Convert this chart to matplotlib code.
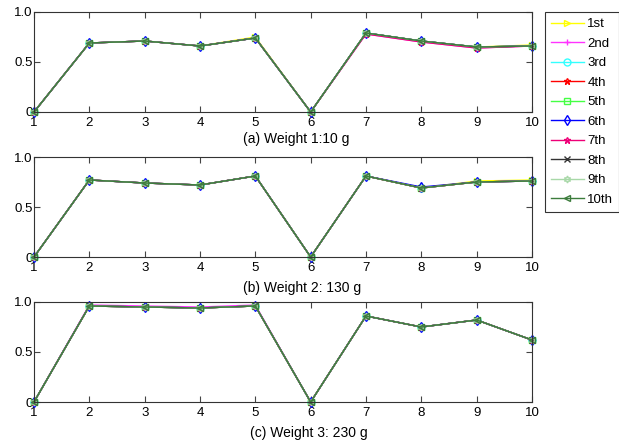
import matplotlib.pyplot as plt

plt.rcParams['font.family'] = ['Liberation Sans', 'DejaVu Sans']
plt.rcParams['font.size'] = 9.5

x = [1, 2, 3, 4, 5, 6, 7, 8, 9, 10]
labels = ['1st', '2nd', '3rd', '4th', '5th', '6th', '7th', '8th', '9th', '10th']
titles = ['(a) Weight 1:10 g', '(b) Weight 2: 130 g', '(c) Weight 3: 230 g']

# ten runs per weight
w1 = [
    [0, 0.69, 0.71, 0.66, 0.75, 0, 0.79, 0.71, 0.65, 0.67],
    [0, 0.69, 0.71, 0.66, 0.74, 0, 0.78, 0.70, 0.64, 0.66],
    [0, 0.69, 0.71, 0.66, 0.74, 0, 0.79, 0.71, 0.65, 0.66],
    [0, 0.69, 0.71, 0.66, 0.74, 0, 0.79, 0.71, 0.65, 0.66],
    [0, 0.69, 0.71, 0.66, 0.74, 0, 0.79, 0.71, 0.65, 0.66],
    [0, 0.69, 0.71, 0.66, 0.74, 0, 0.79, 0.71, 0.65, 0.66],
    [0, 0.69, 0.71, 0.66, 0.74, 0, 0.78, 0.70, 0.64, 0.66],
    [0, 0.69, 0.71, 0.66, 0.74, 0, 0.79, 0.71, 0.65, 0.66],
    [0, 0.69, 0.71, 0.66, 0.74, 0, 0.79, 0.71, 0.65, 0.66],
    [0, 0.69, 0.71, 0.66, 0.74, 0, 0.79, 0.71, 0.65, 0.66],
]
w2 = [
    [0, 0.77, 0.74, 0.72, 0.81, 0, 0.81, 0.69, 0.76, 0.77],
    [0, 0.77, 0.74, 0.72, 0.81, 0, 0.81, 0.69, 0.75, 0.76],
    [0, 0.77, 0.74, 0.72, 0.81, 0, 0.81, 0.69, 0.75, 0.76],
    [0, 0.77, 0.74, 0.72, 0.81, 0, 0.81, 0.69, 0.75, 0.76],
    [0, 0.77, 0.74, 0.72, 0.81, 0, 0.81, 0.69, 0.75, 0.76],
    [0, 0.77, 0.74, 0.72, 0.81, 0, 0.81, 0.70, 0.75, 0.76],
    [0, 0.77, 0.74, 0.72, 0.81, 0, 0.81, 0.69, 0.75, 0.76],
    [0, 0.77, 0.74, 0.72, 0.81, 0, 0.81, 0.69, 0.75, 0.76],
    [0, 0.77, 0.74, 0.72, 0.81, 0, 0.81, 0.69, 0.75, 0.76],
    [0, 0.77, 0.74, 0.72, 0.81, 0, 0.81, 0.69, 0.75, 0.76],
]
w3 = [
    [0, 0.96, 0.95, 0.94, 0.96, 0, 0.86, 0.75, 0.82, 0.62],
    [0, 0.97, 0.96, 0.95, 0.97, 0, 0.86, 0.75, 0.82, 0.62],
    [0, 0.96, 0.95, 0.94, 0.96, 0, 0.86, 0.75, 0.82, 0.62],
    [0, 0.96, 0.95, 0.94, 0.96, 0, 0.86, 0.75, 0.82, 0.62],
    [0, 0.96, 0.95, 0.94, 0.96, 0, 0.86, 0.75, 0.82, 0.62],
    [0, 0.96, 0.95, 0.94, 0.96, 0, 0.86, 0.75, 0.82, 0.62],
    [0, 0.96, 0.95, 0.94, 0.96, 0, 0.86, 0.75, 0.82, 0.62],
    [0, 0.96, 0.95, 0.94, 0.96, 0, 0.86, 0.75, 0.82, 0.62],
    [0, 0.96, 0.95, 0.94, 0.96, 0, 0.86, 0.75, 0.82, 0.62],
    [0, 0.96, 0.95, 0.94, 0.96, 0, 0.86, 0.75, 0.82, 0.62],
]

colors = ['#ffff00', '#ff33ff', '#33ffff', '#ff0000', '#44ff44',
          '#0000ff', '#ee0077', '#333333', '#a8d8a8', '#3c7c3c']
markers = ['>', '+', 'o', '*', 's', 'd', '*', 'x', (6, 1, 0), '<']

fig = plt.figure(figsize=(6.19, 4.44), dpi=100)
W, H = 619, 444
boxes = [(12, 112), (157, 257), (302, 402)]
title_pos = [(296, 139), (302, 288), (309, 433)]
axes = []
for top, bot in boxes:
    axes.append(fig.add_axes([34 / W, 1 - bot / H, (532 - 34) / W, (bot - top) / H]))

for ax, data, title, (tx, ty) in zip(axes, [w1, w2, w3], titles, title_pos):
    for run, c, m, lab in zip(data, colors, markers, labels):
        ax.plot(x, run, color=c, marker=m, markersize=5, markerfacecolor='none',
                linewidth=1, label=lab, clip_on=False)
    ax.set_xlim(1, 10)
    ax.set_ylim(0, 1)
    ax.set_xticks(x)
    ax.set_yticks([0, 0.5, 1.0])
    ax.set_yticklabels(['0', '0.5', '1.0'])
    ax.tick_params(direction='in', top=True, right=True, length=4, color='#444444',
                   labelsize=9.5)
    ax.tick_params(axis='x', pad=3.5)
    ax.tick_params(axis='y', pad=1)
    for s in ax.spines.values():
        s.set_color('#333333')
    fig.text(tx / W, 1 - ty / H, title, ha='center', va='center', fontsize=10)

leg = axes[0].legend(loc='upper left', bbox_to_anchor=(545 / W, 1 - 12 / H),
                     bbox_transform=fig.transFigure, fancybox=False, edgecolor='black',
                     handlelength=2.5, labelspacing=0.55, borderpad=0.45,
                     handletextpad=0.25, borderaxespad=0, fontsize=9.5)
leg.get_frame().set_linewidth(0.8)

fig.savefig('out.png', dpi=100)
